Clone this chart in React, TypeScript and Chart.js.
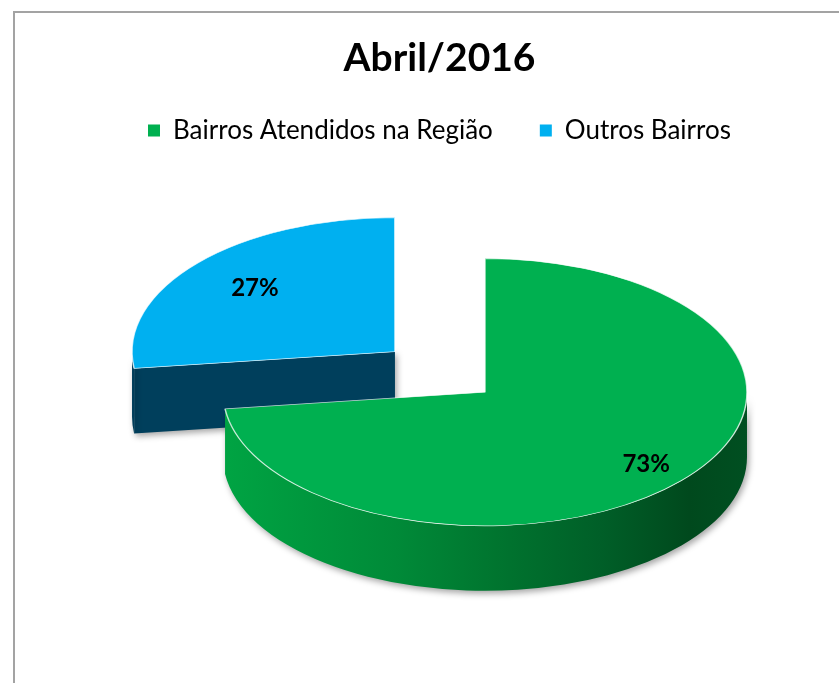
import React, { useEffect, useRef } from 'react';
import { Chart, registerables } from 'chart.js';

Chart.register(...registerables);

// ---- data ----
const chartTitle = 'Abril/2016';
const categories = ['Bairros Atendidos na Região', 'Outros Bairros'];
const values = [73, 27];

// ---- styles ----
const topColors = ['#00B050', '#00B0F0'];
const cutFaceColors = ['#005a26', '#003F5C'];
const wallStops: [number, string][][] = [
  [
    [0, '#00a443'],
    [0.33, '#008a38'],
    [0.52, '#00752f'],
    [0.72, '#005f28'],
    [0.89, '#00491d'],
    [1, '#004f21'],
  ],
  [
    [0, '#003d5a'],
    [1, '#003d5a'],
  ],
];
const explode = [0, 480];
const labelRadius = [0.82, 0.71];

type Geo = {
  i: number;
  a0: number;
  a1: number;
  mid: number;
  R: number;
  Cx: number;
  Cy: number;
};

const pie3d = {
  id: 'pie3d',
  beforeDatasetsDraw(chart: any, _args: any, opts: any) {
    const meta = chart.getDatasetMeta(0);
    const arcs = meta.data;
    if (!arcs || !arcs.length) return;
    const ctx: CanvasRenderingContext2D = chart.ctx;
    const k: number = opts.tilt;
    const h: number = opts.depth;
    const area = chart.chartArea;
    const cy0 = arcs[0].y;

    const raw = arcs.map((arc: any, i: number) => {
      const p = arc.getProps(['x', 'y', 'startAngle', 'endAngle', 'outerRadius', 'circumference'], true);
      const off = (arc.options.offset || 0) / 4;
      const mid = (p.startAngle + p.endAngle) / 2;
      const fix = 1 - Math.sin(Math.min(Math.PI, p.circumference || 0));
      const R = p.outerRadius + off * fix;
      return {
        i,
        a0: p.startAngle,
        a1: p.endAngle,
        mid,
        R,
        ox: p.x + Math.cos(mid) * off,
        oy: p.y + Math.sin(mid) * off,
      };
    });

    // bounding box of projected solid
    let minX = Infinity, maxX = -Infinity, minY = Infinity, maxY = -Infinity;
    const add = (x: number, y: number) => {
      const Y = cy0 + (y - cy0) * k;
      minX = Math.min(minX, x);
      maxX = Math.max(maxX, x);
      minY = Math.min(minY, Y);
      maxY = Math.max(maxY, Y + h);
    };
    raw.forEach((g: any) => {
      add(g.ox, g.oy);
      const n = 96;
      for (let s = 0; s <= n; s++) {
        const t = g.a0 + ((g.a1 - g.a0) * s) / n;
        add(g.ox + g.R * Math.cos(t), g.oy + g.R * Math.sin(t));
      }
    });
    const tx = (area.left + area.right) / 2 - (minX + maxX) / 2;
    const ty = (area.top + area.bottom) / 2 - (minY + maxY) / 2;

    const geo: Geo[] = raw.map((g: any) => ({
      i: g.i,
      a0: g.a0,
      a1: g.a1,
      mid: g.mid,
      R: g.R,
      Cx: g.ox + tx,
      Cy: cy0 + (g.oy - cy0) * k + ty,
    }));
    chart.$pie3d = { geo, k };

    const order = [...geo].sort(
      (a, b) => a.Cy + Math.sin(a.mid) * a.R * k * 0.5 - (b.Cy + Math.sin(b.mid) * b.R * k * 0.5)
    );

    ctx.save();
    ctx.shadowColor = 'rgba(0,0,0,0.35)';
    ctx.shadowBlur = 6;
    ctx.shadowOffsetX = 2;
    ctx.shadowOffsetY = 3;
    order.forEach((g) => {
      const ry = g.R * k;
      const rim = (t: number) => [g.Cx + g.R * Math.cos(t), g.Cy + ry * Math.sin(t)];
      const cutFace = (t: number) => {
        const [x, y] = rim(t);
        ctx.beginPath();
        ctx.moveTo(g.Cx, g.Cy);
        ctx.lineTo(x, y);
        ctx.lineTo(x, y + h);
        ctx.lineTo(g.Cx, g.Cy + h);
        ctx.closePath();
        ctx.fillStyle = opts.cutFaceColors[g.i];
        ctx.fill();
      };
      if (Math.cos(g.a0) < -1e-6) cutFace(g.a0);
      if (Math.cos(g.a1) > 1e-6) cutFace(g.a1);

      // outer wall on front half
      const grad = ctx.createLinearGradient(g.Cx - g.R, 0, g.Cx + g.R, 0);
      opts.wallStops[g.i].forEach((s: [number, string]) => grad.addColorStop(s[0], s[1]));
      for (let n = -1; n <= 2; n++) {
        const s = Math.max(g.a0, n * 2 * Math.PI);
        const e = Math.min(g.a1, n * 2 * Math.PI + Math.PI);
        if (e - s <= 1e-6) continue;
        ctx.beginPath();
        ctx.ellipse(g.Cx, g.Cy, g.R, ry, 0, s, e, false);
        const [xe, ye] = rim(e);
        ctx.lineTo(xe, ye + h);
        ctx.ellipse(g.Cx, g.Cy + h, g.R, ry, 0, e, s, true);
        ctx.closePath();
        ctx.fillStyle = grad;
        ctx.fill();
      }
    });
    ctx.restore();

    // transform for the top faces drawn by Chart.js
    ctx.save();
    ctx.translate(tx, cy0 + ty);
    ctx.scale(1, k);
    ctx.translate(0, -cy0);
  },
  afterDatasetsDraw(chart: any, _args: any, opts: any) {
    const ctx: CanvasRenderingContext2D = chart.ctx;
    if (!chart.$pie3d) return;
    ctx.restore();
    const { geo, k } = chart.$pie3d;
    const data = chart.data.datasets[0].data;
    ctx.save();
    ctx.fillStyle = '#000';
    ctx.font = opts.labelFont;
    ctx.textAlign = 'center';
    ctx.textBaseline = 'middle';
    geo.forEach((g: Geo) => {
      const f = opts.labelRadius[g.i];
      const x = g.Cx + f * g.R * Math.cos(g.mid);
      const y = g.Cy + f * g.R * k * Math.sin(g.mid);
      ctx.fillText(`${data[g.i]}%`, x, y);
    });
    ctx.restore();
  },
};

export default function App() {
  const ref = useRef<HTMLCanvasElement>(null);

  useEffect(() => {
    if (!ref.current) return;
    const chart = new Chart(ref.current, {
      type: 'pie',
      data: {
        labels: categories,
        datasets: [
          {
            data: values,
            backgroundColor: topColors,
            borderColor: 'rgba(255,255,255,0.75)',
            borderWidth: 1.5,
            offset: explode,
            hoverOffset: 0,
            clip: false,
            radius: 262,
          } as any,
        ],
      },
      options: {
        responsive: false,
        animation: false,
        events: [],
        layout: { padding: { left: 40, right: 0, top: 0, bottom: 28 } },
        plugins: {
          title: {
            display: true,
            text: chartTitle,
            color: '#000',
            font: { family: 'Lato', size: 39, weight: 'bold', lineHeight: 0.6 },
            padding: { top: 47, bottom: 0 },
          },
          legend: {
            display: true,
            position: 'top',
            labels: {
              color: '#000',
              boxWidth: 12,
              boxHeight: 12,
              padding: 47,
              font: { family: 'Lato', size: 26 },
              generateLabels: () =>
                categories.map((c, i) => ({
                  text: c,
                  fillStyle: topColors[i],
                  strokeStyle: topColors[i],
                  lineWidth: 0,
                  hidden: false,
                  index: i,
                  fontColor: '#000',
                })),
            },
          },
          tooltip: { enabled: false },
          pie3d: {
            tilt: 0.51,
            depth: 65,
            wallStops,
            cutFaceColors,
            labelRadius,
            labelFont: 'bold 24px Lato',
          },
        } as any,
      },
      plugins: [pie3d],
    });
    return () => chart.destroy();
  }, []);

  return (
    <div
      style={{
        position: 'fixed',
        left: 0,
        top: 0,
        width: 839,
        height: 683,
        overflow: 'hidden',
        background: '#fff',
      }}
    >
      <div
        style={{
          position: 'absolute',
          left: 13,
          top: 11,
          width: 900,
          height: 800,
          borderTop: '2px solid #a3a3a3',
          borderLeft: '2px solid #a3a3a3',
        }}
      />
      <canvas
        ref={ref}
        width={839}
        height={683}
        style={{ position: 'absolute', left: 0, top: 0, width: 839, height: 683 }}
      />
    </div>
  );
}
